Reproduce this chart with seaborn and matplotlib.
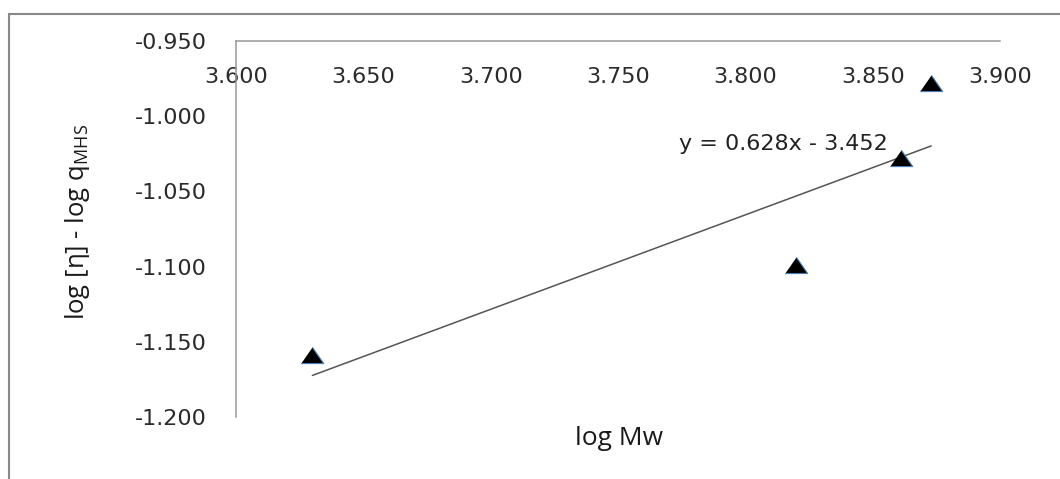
import matplotlib
matplotlib.use("Agg")
import matplotlib.pyplot as plt
import seaborn as sns
import pandas as pd
import numpy as np
from matplotlib.lines import Line2D

# ---- data ----
log_mw = [3.630, 3.820, 3.861, 3.873]
log_eta_q = [-1.159, -1.099, -1.0275, -0.978]
slope = 0.628
intercept = -3.452
x_ticks = [3.600, 3.650, 3.700, 3.750, 3.800, 3.850, 3.900]
y_ticks = [-1.200, -1.150, -1.100, -1.050, -1.000, -0.950]
equation_label = "y = 0.628x - 3.452"
x_label = "log Mw"
y_label = r"log [η] - log q$_{MHS}$"

sns.set_theme(style="white")
plt.rcParams["font.family"] = ["DejaVu Sans"]
plt.rcParams["mathtext.default"] = "regular"

fig = plt.figure(figsize=(10.6, 4.79), dpi=100)
fig.patch.set_facecolor("white")
ax = fig.add_axes([236 / 1060, 1 - 417 / 479, (1000 - 236) / 1060, (417 - 41) / 479])
ax.set_facecolor("white")

df = pd.DataFrame({"x": log_mw, "y": log_eta_q})

# trendline
xs = np.array([min(log_mw), max(log_mw)])
ax.plot(xs, slope * xs + intercept, color="#555555", lw=1.1, zorder=2)

tri = [(-1, -0.72), (1, -0.72), (0, 0.72)]
sns.scatterplot(data=df, x="x", y="y", marker=tri, s=260, color="black",
                edgecolor="#4a7ebb", linewidth=0.8, ax=ax, zorder=3, legend=False)

ax.set_xlim(3.6, 3.9)
ax.set_ylim(-1.2, -0.95)
ax.set_xticks(x_ticks)
ax.set_yticks(y_ticks)
ax.set_xticklabels([f"{v:.3f}" for v in x_ticks])
ax.set_yticklabels([f"{v:.3f}" for v in y_ticks])

for s in ["top", "right"]:
    ax.spines[s].set_visible(False)
ax.spines["bottom"].set_position(("data", -0.95))
for s in ["left", "bottom"]:
    ax.spines[s].set_color("#999999")
    ax.spines[s].set_linewidth(1.1)

ax.tick_params(axis="x", direction="out", length=4.5, width=1.1, color="#999999",
               pad=14, labelsize=16, labelcolor="#2a2a2a")
ax.tick_params(axis="y", direction="out", length=8, width=1.1, color="#999999",
               pad=13, labelsize=16, labelcolor="#2a2a2a")
ax.grid(False)

ax.text(3.815, -1.0185, equation_label, ha="center", va="center",
        fontsize=16, color="#222222")

ax.set_xlabel(x_label, fontsize=19, family=["Open Sans", "DejaVu Sans"],
              color="#1a1a1a", va="center", ha="center")
ax.xaxis.set_label_coords(0.501, -0.0585)
ax.set_ylabel(y_label, fontsize=18.5, family=["Open Sans", "DejaVu Sans"],
              color="#1a1a1a", va="center", ha="center")
ax.yaxis.set_label_coords(-0.208, 0.519)

# outer chart frame
fig.add_artist(Line2D([9 / 1060, 9 / 1060], [0, 1 - 13.5 / 479],
                      transform=fig.transFigure, color="#888888", lw=1.5))
fig.add_artist(Line2D([9 / 1060, 1], [1 - 13.5 / 479, 1 - 13.5 / 479],
                      transform=fig.transFigure, color="#888888", lw=1.5))

fig.savefig("out.png", dpi=100, facecolor="white")
